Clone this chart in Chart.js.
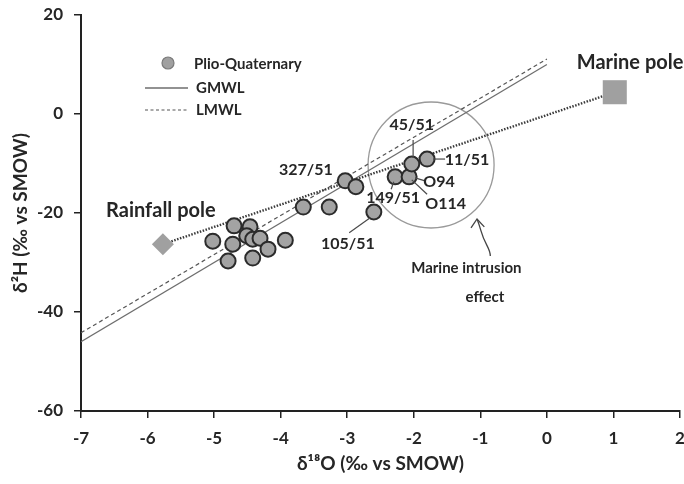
<!DOCTYPE html>
<html><head><meta charset="utf-8">
<script src="https://cdn.jsdelivr.net/npm/chart.js@4.4.1/dist/chart.umd.min.js"></script>
<style>html,body{margin:0;padding:0;background:#fff}#wrap{width:684px;height:484px}</style>
</head><body><div id="wrap"><canvas id="c" width="684" height="484"></canvas></div>
<script>
// ---- data ----
const d18O = [-5.02,-4.70,-4.72,-4.79,-4.46,-4.51,-4.42,-4.31,-4.42,-4.19,-3.93,-3.66,-3.27,-3.03,-2.87,-2.60,-2.28,-2.07,-2.03,-1.80];
const d2H  = [-25.7,-22.6,-26.3,-29.7,-22.8,-24.6,-25.3,-25.1,-29.1,-27.3,-25.5,-18.8,-18.8,-13.5,-14.7,-19.8,-12.7,-12.7,-10.1,-9.1];
const gmwlX = [-7, 0];
const gmwlY = [-46, 10];
const lmwlX = [-7, 0];
const lmwlY = [-44.2, 11.1];
const rainfallPole = [-5.77, -26.3];
const marinePole = [1.02, 4.4];
const xTicks = [-7,-6,-5,-4,-3,-2,-1,0,1,2];
const yTicks = [-60,-40,-20,0,20];
const intrusionCentre = [-1.74, -10.3];

// annotation texts anchored in data space
const sampleLabels = [
  {t:'327/51', x:-3.62, y:-11.3},
  {t:'149/51', x:-2.31, y:-17.0},
  {t:'105/51', x:-2.99, y:-26.3},
  {t:'O94',    x:-1.62, y:-13.7},
  {t:'O114',   x:-1.52, y:-18.2},
  {t:'11/51',  x:-1.20, y:-9.3},
  {t:'45/51',  x:-2.03, y:-2.2}
];
const leaders = [
  [[-2.01,-5.25],[-2.01,-8.9]],
  [[-1.71,-9.1],[-1.53,-9.1]],
  [[-1.98,-12.9],[-1.83,-13.5]],
  [[-2.03,-13.3],[-1.80,-16.2]],
  [[-2.30,-13.7],[-2.34,-15.2]],
  [[-2.66,-21.0],[-2.97,-24.0]]
];
const poleLabels = [
  {t:'Rainfall pole', x:-5.80, y:-19.6},
  {t:'Marine pole', x:1.25, y:10.3}
];
const effectLabels = [
  {t:'Marine intrusion', x:-1.21, y:-31.1},
  {t:'effect', x:-0.93, y:-37.0}
];

const pts = d18O.map((v,i)=>({x:v, y:d2H[i]}));
const FONT = 'Lato, "Open Sans", "Noto Sans", sans-serif';
const TXT = '#262626';

const annot = {
  id:'annot',
  afterDatasetsDraw(chart){
    const {ctx, scales:{x, y}} = chart;
    const P = (a,b)=>[x.getPixelForValue(a), y.getPixelForValue(b)];
    ctx.save();
    // leader lines
    ctx.strokeStyle = '#4a4a4a'; ctx.lineWidth = 1.2;
    leaders.forEach(l=>{
      const a=P(...l[0]), b=P(...l[1]);
      ctx.beginPath(); ctx.moveTo(a[0],a[1]); ctx.lineTo(b[0],b[1]); ctx.stroke();
    });
    // arrow
    const tip=P(-1.05,-21.2), m1=P(-0.99,-23.6), m2=P(-0.90,-26.1), e=P(-0.85,-28.7);
    ctx.strokeStyle='#444'; ctx.lineWidth=1.3;
    ctx.beginPath(); ctx.moveTo(e[0],e[1]);
    ctx.bezierCurveTo(e[0],e[1]-8, m2[0]-2, m2[1]+2, m1[0], m1[1]);
    ctx.quadraticCurveTo(tip[0]+2, tip[1]+5, tip[0], tip[1]);
    ctx.stroke();
    const h1=P(-1.14,-23.0), h2=P(-0.94,-22.8);
    ctx.beginPath(); ctx.moveTo(h1[0],h1[1]); ctx.lineTo(tip[0],tip[1]); ctx.lineTo(h2[0],h2[1]); ctx.stroke();
    // texts
    ctx.fillStyle = TXT; ctx.textAlign='center'; ctx.textBaseline='middle';
    ctx.font = 'bold 16px ' + FONT;
    sampleLabels.forEach(s=>{ const p=P(s.x,s.y); ctx.fillText(s.t,p[0],p[1]); });
    ctx.font = 'bold 20px ' + FONT;
    poleLabels.forEach(s=>{ const p=P(s.x,s.y); ctx.fillText(s.t,p[0],p[1]); });
    ctx.font = 'bold 15px ' + FONT;
    effectLabels.forEach(s=>{ const p=P(s.x,s.y); ctx.fillText(s.t,p[0],p[1]); });
    // legend
    ctx.font = 'bold 15px ' + FONT; ctx.textAlign='left';
    ctx.beginPath(); ctx.arc(168,63,6,0,Math.PI*2);
    ctx.fillStyle='#a0a0a0'; ctx.fill(); ctx.strokeStyle='#7a7a7a'; ctx.lineWidth=1.2; ctx.stroke();
    ctx.fillStyle=TXT; ctx.fillText('Plio-Quaternary',194,64);
    ctx.strokeStyle='#6e6e6e'; ctx.lineWidth=1.3; ctx.setLineDash([]);
    ctx.beginPath(); ctx.moveTo(145,88); ctx.lineTo(188,88); ctx.stroke();
    ctx.fillText('GMWL',196,88);
    ctx.strokeStyle='#555'; ctx.lineWidth=1.2; ctx.setLineDash([3,2.5]);
    ctx.beginPath(); ctx.moveTo(145,110); ctx.lineTo(188,110); ctx.stroke();
    ctx.setLineDash([]);
    ctx.fillText('LMWL',196,110);
    ctx.restore();
  }
};

new Chart(document.getElementById('c'), {
  type:'scatter',
  data:{ datasets:[
    {label:'Plio-Quaternary', data:pts, order:0, pointRadius:7.5, pointHoverRadius:7.5,
     backgroundColor:'#a3a3a3', borderColor:'#2b2b2b', borderWidth:2},
    {label:'Rainfall pole', data:[{x:rainfallPole[0], y:rainfallPole[1]}], order:1,
     pointStyle:'rectRot', pointRadius:11, backgroundColor:'#a0a0a0', borderWidth:0},
    {label:'Marine pole', data:[{x:marinePole[0], y:marinePole[1]}], order:1,
     pointStyle:'rect', pointRadius:17, backgroundColor:'#a0a0a0', borderWidth:0},
    {label:'GMWL', data:gmwlX.map((v,i)=>({x:v,y:gmwlY[i]})), showLine:true, order:5,
     pointRadius:0, borderColor:'#6e6e6e', borderWidth:1.3},
    {label:'LMWL', data:lmwlX.map((v,i)=>({x:v,y:lmwlY[i]})), showLine:true, order:5,
     pointRadius:0, borderColor:'#555', borderWidth:1.2, borderDash:[4,3]},
    {label:'Mixing', data:[{x:rainfallPole[0],y:rainfallPole[1]},{x:marinePole[0],y:marinePole[1]}], showLine:true, order:4,
     pointRadius:0, borderColor:'#3a3a3a', borderWidth:2.4, borderDash:[1.5,1.5]},
    {label:'Intrusion', data:[{x:intrusionCentre[0], y:intrusionCentre[1]}], order:6,
     pointRadius:63, pointHoverRadius:63, backgroundColor:'rgba(0,0,0,0)', borderColor:'#9a9a9a', borderWidth:1.3}
  ]},
  options:{
    responsive:false, animation:false, devicePixelRatio:1,
    layout:{autoPadding:false, padding:{top:15, right:4, left:0, bottom:0}},
    plugins:{legend:{display:false}, tooltip:{enabled:false}},
    scales:{
      x:{type:'linear', min:-7, max:2,
        afterBuildTicks:s=>{ s.ticks = xTicks.map(v=>({value:v})); },
        afterFit:s=>{ s.height = 73; s.paddingLeft = 0; s.paddingRight = 0; },
        grid:{drawOnChartArea:false, drawTicks:true, tickLength:7, color:'#222', lineWidth:1.5},
        border:{display:true, color:'#222', width:2},
        ticks:{color:TXT, padding:10, font:{family:FONT, size:17, weight:'bold'}, maxRotation:0, autoSkip:false},
        title:{display:true, text:'δ¹⁸O (‰ vs SMOW)', color:TXT, font:{family:FONT, size:19, weight:'bold'}, padding:{top:0,bottom:9}}
      },
      y:{type:'linear', min:-60, max:20,
        afterBuildTicks:s=>{ s.ticks = yTicks.map(v=>({value:v})); },
        afterFit:s=>{ s.width = 81; s.paddingTop = 0; s.paddingBottom = 0; },
        grid:{drawOnChartArea:false, drawTicks:true, tickLength:7, color:'#222', lineWidth:1.5},
        border:{display:true, color:'#222', width:2},
        ticks:{color:TXT, padding:11, font:{family:FONT, size:17, weight:'bold'}, autoSkip:false},
        title:{display:true, text:'δ²H (‰ vs SMOW)', color:TXT, font:{family:FONT, size:19, weight:'bold'}, padding:{top:9,bottom:0}}
      }
    }
  },
  plugins:[annot]
});
</script></body></html>
